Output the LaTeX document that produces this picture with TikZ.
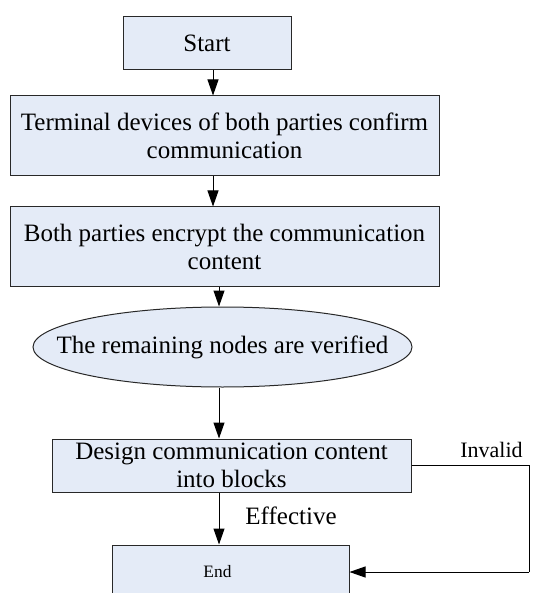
\documentclass[tikz,border=0pt]{standalone}
\usepackage{fontspec}
\setmainfont{Liberation Serif}
\usetikzlibrary{arrows.meta,shapes.geometric}
\definecolor{boxfill}{RGB}{228,235,247}
\definecolor{boxline}{RGB}{40,40,40}
\begin{document}
\begin{tikzpicture}[x=1pt,y=-1pt,
  every node/.style={inner sep=0pt, font=\fontsize{25}{28}\selectfont},
  stepbox/.style={draw=boxline, line width=1pt, fill=boxfill, align=center},
  arr/.style={-{Triangle[length=16pt,width=11pt]}, line width=1pt, black},
  link/.style={line width=1pt, black}]
  % page area
  \clip (0,0) rectangle (533,593);

  % flow steps
  \node[stepbox, minimum width=168pt, minimum height=53pt] (start) at (207,43.5) {Start};
  \node[stepbox, minimum width=429pt, minimum height=80pt] (confirm) at (224.5,136)
    {Terminal devices of both parties confirm\\communication};
  \node[stepbox, minimum width=429pt, minimum height=79pt] (encrypt) at (224.5,246.5)
    {Both parties encrypt the communication\\content};
  \node[ellipse, draw=boxline, line width=1pt, fill=boxfill,
        minimum width=379pt, minimum height=80pt] (verify) at (222.5,347) {};
  \node (verifytext) at (verify.center) {The remaining nodes are verified};
  \node[stepbox, minimum width=359pt, minimum height=53pt] (blocks) at (231.5,465.5)
    {Design communication content\\into blocks};
  \node[stepbox, minimum width=237pt, minimum height=54pt] (end) at (230.5,572) {};
  \node[font=\fontsize{17.4}{20}\selectfont] (endtext) at (217.5,572) {End};

  % vertical lines of the connectors
  \coordinate (colA) at (213,0);
  \coordinate (colB) at (219,0);
  \coordinate (loopx) at (529,0);

  \draw[arr] (start.south -| colA) -- (confirm.north -| colA);
  \draw[arr] (confirm.south -| colA) -- (encrypt.north -| colA);
  \draw[arr] (encrypt.south -| colB) -- (verify.north -| colB);
  \draw[arr] (verify.south -| colB) -- (blocks.north -| colB);
  \draw[arr] (blocks.south -| colB) -- (end.north -| colB);
  \draw[link] (blocks.east) -- (blocks.east -| loopx) -- (end.east -| loopx);
  \draw[arr] (end.east -| loopx) -- (end.east);

  % branch labels
  \node (effective) at (291,516) {Effective};
  \node[font=\fontsize{22}{26}\selectfont] (invalid) at (491.5,450) {Invalid};
\end{tikzpicture}
\end{document}
